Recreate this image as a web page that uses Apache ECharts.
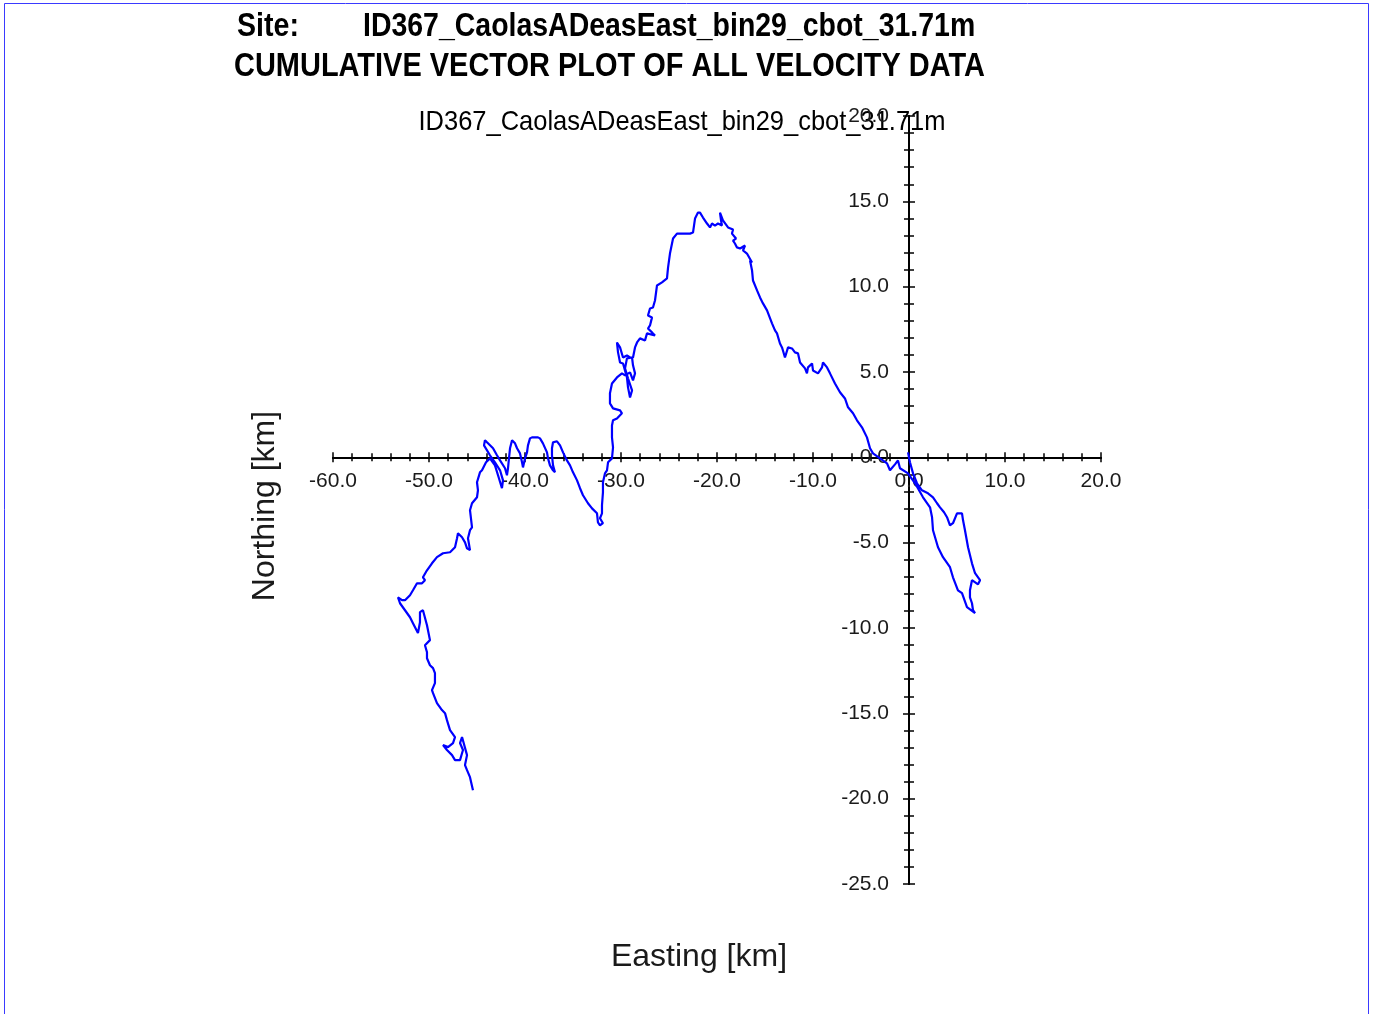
<!DOCTYPE html>
<html>
<head>
<meta charset="utf-8">
<script src="https://cdn.jsdelivr.net/npm/echarts@6/dist/echarts.min.js"></script>
<style>
html,body{margin:0;padding:0;background:#fff;}
#c{width:1374px;height:1014px;}
</style>
</head>
<body>
<div id="c"></div>
<script>
// Cumulative displacement (km)
const eastKm = [
0,-0.10,0.10,0.42,0.83,1.35,1.98,2.50,2.92,3.23,3.65,3.96,4.27,4.58,5.00,5.52,5.63,5.83,6.15,6.56,6.88,7.40,7.19,6.56,6.35,6.35,6.56,6.67,6.88,
6.04,5.52,5.10,4.58,4.27,3.54,3.02,2.50,2.40,2.19,1.46,0.63,-0.10,-0.94,
-1.15,-1.46,-1.98,-2.29,-3.02,-3.75,
-4.06,-4.38,-4.90,-5.42,-5.83,-6.35,-6.67,-7.19,-7.71,-8.23,-8.54,-8.96,-9.06,-9.48,-10.00,-10.10,-10.52,-10.63,-10.83,-11.35,-11.56,-11.88,-12.19,-12.60,-12.92,-13.13,-13.23,-13.44,-13.75,-13.96,
-14.27,-14.79,-15.21,-15.52,-15.83,-16.25,-16.35,-16.56,-16.35,-16.88,-17.29,-17.08,-17.60,-17.92,-18.13,-18.33,-18.02,-18.44,-18.33,-18.85,-19.38,-19.69,-19.58,-19.48,-19.90,-20.21,-20.52,-20.73,-21.04,-21.46,-21.77,-21.98,-22.29,-22.50,-22.81,-23.13,-24.17,-24.58,-24.90,-25.10,-25.21,-25.73,-26.25,-26.46,-26.67,-26.98,
-27.19,-26.77,-26.98,-27.19,-26.77,-26.46,-27.29,-27.50,-28.02,-28.33,-28.54,-28.75,-29.06,-29.38,-29.79,-30.10,-30.42,-30.31,-30.10,-29.79,-29.38,-29.27,-29.06,-28.85,-29.27,-29.58,-29.38,-28.85,-28.75,-28.54,-28.75,-29.06,-29.58,-29.90,-30.42,-30.94,-31.15,-31.15,-30.83,-30.10,-29.90,-30.42,-30.83,-30.94,-30.94,-30.83,-30.94,
-31.35,-31.46,-31.67,-31.88,-31.88,-31.98,-31.98,-32.19,-31.88,-32.19,-32.40,-32.50,-33.02,-33.44,-33.96,-34.27,-34.58,-35.00,-35.31,-35.63,-36.04,-36.35,-36.67,-37.08,-37.19,-37.19,-37.08,-36.88,-37.08,-37.40,-37.60,-37.71,-38.13,-38.44,-38.65,-39.27,-39.48,-39.69,-39.79,-40.00,-40.21,-40.31,-40.52,-40.83,-41.04,-41.35,-41.56,-41.67,-41.77,-41.88,
-42.08,-42.60,-42.92,-43.33,-43.96,-44.17,-44.27,-43.65,-43.13,-42.60,-42.29,-42.40,-42.81,-43.13,-43.65,-44.06,-44.48,
-44.69,-45.00,-44.90,-45.00,-45.52,-45.73,-45.52,-45.73,-45.94,-45.73,-46.04,-46.25,-46.56,-46.98,-47.08,-47.29,-47.81,-48.54,-49.17,-49.69,-50.21,-50.63,-50.42,-50.73,-51.25,-51.67,-51.98,-52.50,-52.81,-53.23,-53.33,
-53.02,-52.50,-51.98,-51.67,-51.15,-50.94,-50.94,-50.63,-50.21,-49.90,-50.42,-50.21,-50.21,-49.90,-49.58,-49.38,-49.38,-49.69,-49.58,-49.17,-48.65,-48.33,-48.13,-47.81,-47.29,-47.50,-48.02,-48.54,-48.13,-47.60,-47.29,-46.77,-46.46,-46.77,-46.56,-46.04,-46.25,-46.04,-45.73,-45.42
];
const northKm = [
0,0.29,-0.29,-0.94,-1.52,-1.93,-2.11,-2.34,-2.69,-2.93,-3.22,-3.51,-3.98,-3.86,-3.28,-3.28,-3.69,-4.27,-5.27,-6.21,-6.79,-7.20,-7.44,-7.20,-7.79,-8.20,-8.55,-8.96,-9.13,
-8.78,-7.96,-7.79,-7.03,-6.44,-5.85,-5.27,-4.27,-3.51,-2.93,-2.34,-1.52,-0.94,-0.64,
-0.18,-0.41,-0.76,-0.35,-0.06,0.23,
0.53,1.17,1.76,2.17,2.58,2.93,3.45,3.81,4.33,4.92,5.27,5.56,5.27,4.92,5.09,5.50,5.27,4.92,5.21,5.56,6.09,6.15,6.38,6.44,5.85,6.26,6.44,6.67,7.26,7.44,
7.85,8.61,9.02,9.37,9.78,10.36,10.95,11.53,11.42,11.94,12.12,12.41,12.24,12.30,12.53,12.70,12.82,13.11,13.35,13.47,13.88,14.34,13.88,13.58,13.70,13.58,13.70,13.47,13.70,14.05,14.34,14.34,13.99,13.17,13.11,13.11,13.11,12.82,11.94,11.12,10.48,10.25,10.07,9.19,8.78,8.72,
8.31,8.20,7.73,7.55,7.32,7.14,7.26,6.85,6.97,6.73,6.44,5.85,5.85,5.97,5.85,6.44,6.73,6.15,5.56,5.50,4.68,4.10,3.51,3.92,4.63,5.21,5.80,5.85,5.39,4.92,4.51,4.98,4.80,4.92,4.68,4.33,3.75,3.16,2.87,2.75,2.58,2.28,2.17,1.87,1.17,0.59,-0.06,
-0.29,-0.76,-0.94,-1.46,-2.05,-2.81,-3.28,-3.57,-3.86,-3.98,-3.81,-3.28,-2.99,-2.69,-2.22,-1.81,-1.35,-0.88,-0.47,-0.18,0.29,0.70,0.94,0.88,0.53,0.12,-0.47,-0.88,-0.76,-0.47,-0.06,0.29,0.82,1.11,1.17,1.17,1.11,0.70,0.29,-0.06,-0.59,-0.29,0.23,0.53,0.82,1.00,0.53,-0.06,-0.64,-1.05,
-0.64,-0.18,0.12,0.53,0.88,1.00,0.70,0.12,-0.29,-0.76,-1.35,-1.81,-1.05,-0.47,-0.06,-0.29,-0.76,
-0.88,-1.46,-1.93,-2.34,-2.69,-3.10,-4.10,-4.27,-4.74,-5.44,-5.33,-4.98,-4.68,-4.45,-4.74,-5.27,-5.56,-5.62,-5.85,-6.21,-6.62,-7.03,-7.20,-7.38,-7.38,-7.79,-8.08,-8.37,-8.37,-8.20,-8.26,
-8.55,-8.96,-9.37,-9.72,-10.30,-9.66,-9.07,-8.96,-9.84,-10.71,-11.01,-11.42,-11.77,-12.18,-12.35,-12.65,-13.23,-13.64,-13.82,-14.40,-14.81,-14.99,-15.40,-15.98,-16.39,-16.74,-16.98,-16.86,-17.15,-17.45,-17.74,-17.74,-17.15,-16.74,-16.39,-17.45,-18.03,-18.33,-18.74,-19.50
];

const siteLabel = 'Site:';
const siteName = 'ID367_CaolasADeasEast_bin29_cbot_31.71m';
const titleLine2 = 'CUMULATIVE VECTOR PLOT OF ALL VELOCITY DATA';
const xName = 'Easting [km]';
const yName = 'Northing [km]';
const xMin = -60, xMax = 20, xStep = 10;
const yMin = -25, yMax = 20, yStep = 5;

const pts = eastKm.map((x, i) => [x, northKm[i]]);

// grid box (px)
const G = {left: 333, top: 116, width: 768, height: 768};
// pixel offsets so axes sit on the zero lines
const zeroY = G.top + (yMax - 0) / (yMax - yMin) * G.height;
const zeroX = G.left + (0 - xMin) / (xMax - xMin) * G.width;
const offBottom = -(G.top + G.height - zeroY);
const offTop = -(zeroY - G.top);
const offLeft = -(zeroX - G.left);
const offRight = -(G.left + G.width - zeroX);

const chart = echarts.init(document.getElementById('c'), null, {renderer: 'canvas'});
const fmt = v => v.toFixed(1);
const labelStyle = {color: '#1a1a1a', fontSize: 21, fontFamily: '"Liberation Sans", Arial, sans-serif'};
const tickStyle = {color: '#000', width: 1.5};

function axis(pos, min, max, step, off, withLabels, margin, majorLen, minorLen) {
  return {
    type: 'value', position: pos, min: min, max: max, interval: step, offset: off,
    axisLine: {show: true, onZero: false, lineStyle: {color: '#000', width: 2}},
    splitLine: {show: false},
    axisTick: {show: true, length: majorLen, lineStyle: tickStyle},
    minorTick: {show: true, splitNumber: 5, length: minorLen, lineStyle: tickStyle},
    axisLabel: withLabels ? Object.assign({formatter: fmt, margin: margin}, labelStyle) : {show: false}
  };
}

chart.setOption({
  animation: false,
  backgroundColor: '#fff',
  grid: {left: G.left, top: G.top, width: G.width, height: G.height, containLabel: false},
  xAxis: [
    axis('bottom', xMin, xMax, xStep, offBottom, true, 13, 5, 4),
    axis('top', xMin, xMax, xStep, offTop, false, 0, 5, 4)
  ],
  yAxis: [
    axis('left', yMin, yMax, yStep, offLeft, true, 20, 6, 5),
    axis('right', yMin, yMax, yStep, offRight, false, 0, 6, 5)
  ],
  series: [{
    type: 'line',
    xAxisIndex: 0, yAxisIndex: 0,
    data: pts,
    showSymbol: false,
    symbol: 'none',
    clip: false,
    lineStyle: {color: '#0000ff', width: 2.2},
    z: 1
  }],
  graphic: [
    {type: 'rect', silent: true, shape: {x: 4.5, y: 3.5, width: 1364, height: 1030},
     style: {fill: 'none', stroke: '#3a3aff', lineWidth: 1}},
    {type: 'text', x: 237, y: 27, scaleX: 0.84,
     style: {x: 0, y: 0, text: siteLabel, textVerticalAlign: 'middle', textAlign: 'left',
      font: 'bold 34px "Liberation Sans", Arial, sans-serif', fill: '#000'}},
    {type: 'text', x: 363, y: 27, scaleX: 0.837,
     style: {x: 0, y: 0, text: siteName, textVerticalAlign: 'middle', textAlign: 'left',
      font: 'bold 34px "Liberation Sans", Arial, sans-serif', fill: '#000'}},
    {type: 'text', x: 234, y: 67, scaleX: 0.852,
     style: {x: 0, y: 0, text: titleLine2, textVerticalAlign: 'middle', textAlign: 'left',
      font: 'bold 34px "Liberation Sans", Arial, sans-serif', fill: '#000'}},
    {type: 'text', x: 682, y: 122, scaleX: 0.91,
     style: {x: 0, y: 0, text: siteName, textVerticalAlign: 'middle', textAlign: 'center',
      font: '28px "Liberation Sans", Arial, sans-serif', fill: '#000'}},
    {type: 'text', x: 699, y: 957,
     style: {x: 0, y: 0, text: xName, textVerticalAlign: 'middle', textAlign: 'center',
      font: '32px "Liberation Sans", Arial, sans-serif', fill: '#1a1a1a'}},
    {type: 'text', x: 265, y: 506, rotation: Math.PI / 2,
     style: {x: 0, y: 0, text: yName, textVerticalAlign: 'middle', textAlign: 'center',
      font: '32px "Liberation Sans", Arial, sans-serif', fill: '#1a1a1a'}}
  ]
});
</script>
</body>
</html>
